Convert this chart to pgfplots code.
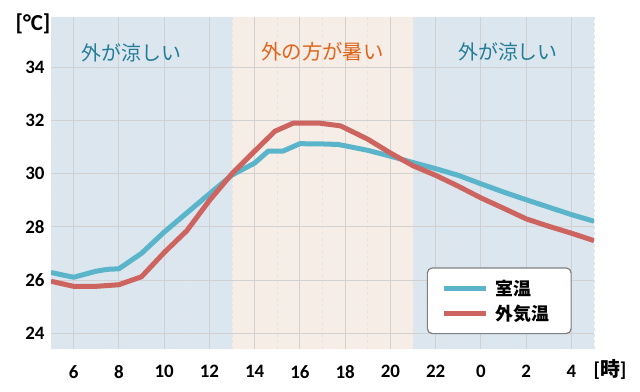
\documentclass[border=0pt]{standalone}
\usepackage{pgfplots}
\pgfplotsset{compat=1.18}
\usepackage{fontspec}
\setmainfont{Carlito}
\newfontfamily\jp{Noto Sans CJK JP}
\definecolor{cblue}{HTML}{5AB5CB}
\definecolor{cred}{HTML}{CD645F}
\definecolor{bandblue}{HTML}{DCE6EF}
\definecolor{bandpeach}{HTML}{F6EDE7}
\definecolor{tealtxt}{HTML}{237D96}
\definecolor{orangetxt}{HTML}{E0651A}
\begin{document}
\begin{tikzpicture}
\begin{axis}[
  set layers,
  at={(0,0)}, anchor=south west,
  scale only axis,
  width=543bp, height=332bp,
  xmin=5, xmax=29, ymin=23.4, ymax=35.9,
  axis line style={draw=none},
  xtick={6,8,...,28},
  xticklabels={6,8,10,12,14,16,18,20,22,0,2,4},
  minor xtick={5,7,...,29},
  ytick={24,26,...,34},
  grid=both,
  major grid style={draw=black!18, line width=0.8bp},
  minor grid style={draw=black!10, dashed, line width=0.6bp},
  /pgf/number format/assume math mode=true,
  ticklabel style={font=\fontsize{19}{22}\selectfont\bfseries},
  xticklabel style={yshift=-13bp},
  yticklabel style={xshift=-3bp},
  tick style={draw=none},
  legend style={at={(0.959,0.246)}, anchor=north east,
    draw=black!50, line width=1.2bp, rounded corners=5bp,
    fill=white, inner xsep=14bp, inner ysep=10bp,
    row sep=4bp,
    font=\jp\bfseries\fontsize{18}{21}\selectfont},
  legend cell align=left,
  legend image code/.code={\draw[#1, line width=5bp] (0bp,0bp) -- (42bp,0bp); \path (47bp,0bp);},
]
\addplot[on layer=axis background, fill=bandblue, draw=none, forget plot] coordinates {(5,23.4) (13,23.4) (13,35.9) (5,35.9)} \closedcycle;
\addplot[on layer=axis background, fill=bandpeach, draw=none, forget plot] coordinates {(13,23.4) (21,23.4) (21,35.9) (13,35.9)} \closedcycle;
\addplot[on layer=axis background, fill=bandblue, draw=none, forget plot] coordinates {(21,23.4) (29,23.4) (29,35.9) (21,35.9)} \closedcycle;

\addplot[cblue, line width=5bp, line join=round] coordinates {
 (5,26.28) (6,26.1) (7,26.33) (7.5,26.4) (8,26.42) (9,27.0) (10,27.8) (11,28.52)
 (12,29.24) (13,29.95) (14,30.4) (14.6,30.85) (15.25,30.85) (16,31.13) (17,31.12)
 (17.7,31.1) (18,31.05) (19,30.88) (20,30.66) (21,30.42) (22,30.19) (23,29.94)
 (24,29.62) (25,29.31) (26,29.02) (27,28.74) (28,28.46) (29,28.21)};
\addlegendentry{室温}
\addplot[cred, line width=5bp, line join=round] coordinates {
 (5,25.95) (6,25.76) (7,25.76) (8,25.82) (9,26.12) (10,27.03) (11,27.85) (12,28.99)
 (13,30.0) (14,30.85) (14.9,31.6) (15.7,31.9) (16.9,31.9) (17.8,31.8) (19,31.3)
 (20,30.78) (21,30.3) (22,29.94) (23,29.53) (24,29.09) (25,28.7) (26,28.3)
 (27,28.02) (28,27.76) (29,27.48)};
\addlegendentry{外気温\hspace*{6bp}}

\node[text=tealtxt, font=\jp\fontsize{20}{24}\selectfont] at (axis cs:8.55,34.55) {外が涼しい};
\node[text=orangetxt, font=\jp\fontsize{20.5}{24}\selectfont] at (axis cs:17,34.6) {外の方が暑い};
\node[text=tealtxt, font=\jp\fontsize{20}{24}\selectfont] at (axis cs:25.2,34.6) {外が涼しい};
\end{axis}
\node[font=\fontsize{23}{26}\selectfont\bfseries] at (-18bp,325bp) {[°C]};
\node[font=\fontsize{20}{23}\selectfont\bfseries] at (559bp,-20bp) {[{\jp 時}]};
\pgfresetboundingbox
\path (-51bp,-43bp) rectangle (589bp,349bp);
\end{tikzpicture}
\end{document}
